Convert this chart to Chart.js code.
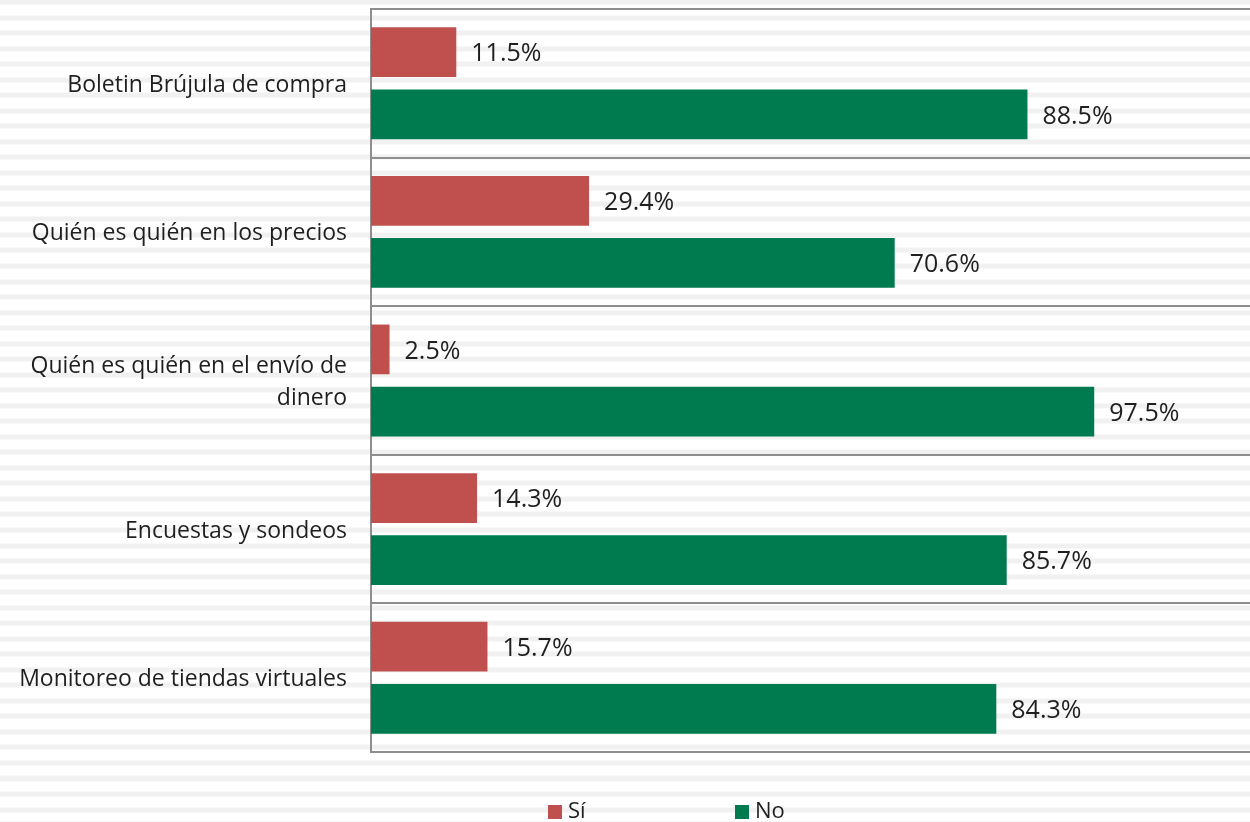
<!DOCTYPE html>
<html>
<head>
<meta charset="utf-8">
<script src="https://cdn.jsdelivr.net/npm/chart.js@4"></script>
<style>
  html, body { margin: 0; padding: 0; }
  body {
    width: 1250px; height: 822px; overflow: hidden;
    background: repeating-linear-gradient(to bottom, #f1f1f1 0px, #f1f1f1 5px, #ffffff 5px, #ffffff 15.53px);
    background-position: 0 -0.5px;
  }
  #wrap { position: relative; width: 1250px; height: 822px; }
</style>
</head>
<body>
<div id="wrap"><canvas id="c" width="1250" height="822"></canvas></div>
<script>
const categories = [
  'Boletin Brújula de compra',
  'Quién es quién en los precios',
  ['Quién es quién en el envío de', 'dinero'],
  'Encuestas y sondeos',
  'Monitoreo de tiendas virtuales'
];
const seriesNames = ['Sí', 'No'];
const siValues = [11.5, 29.4, 2.5, 14.3, 15.7];
const noValues = [88.5, 70.6, 97.5, 85.7, 84.3];
const seriesColors = ['#C0504D', '#007A4F'];

const FONT = '"Open Sans", "Noto Sans", sans-serif';
const TEXT = '#1f1f1f';

const valueLabels = {
  id: 'valueLabels',
  afterDatasetsDraw(chart) {
    const ctx = chart.ctx;
    ctx.save();
    ctx.font = '25px ' + FONT;
    ctx.fillStyle = TEXT;
    ctx.textAlign = 'left';
    ctx.textBaseline = 'middle';
    chart.data.datasets.forEach((ds, i) => {
      const meta = chart.getDatasetMeta(i);
      meta.data.forEach((bar, j) => {
        ctx.fillText(ds.data[j].toFixed(1) + '%', bar.x + 15, bar.y + 2);
      });
    });
    ctx.restore();
  }
};

const customLegend = {
  id: 'customLegend',
  afterDraw(chart) {
    const ctx = chart.ctx;
    ctx.save();
    ctx.font = '22px ' + FONT;
    ctx.textBaseline = 'middle';
    ctx.textAlign = 'left';
    let x = 548;
    const y = 812;
    chart.data.datasets.forEach((ds) => {
      ctx.fillStyle = ds.backgroundColor;
      ctx.fillRect(x, y - 7, 14, 14);
      ctx.fillStyle = TEXT;
      ctx.fillText(ds.label, x + 20, y);
      x += 187;
    });
    ctx.restore();
  }
};

new Chart(document.getElementById('c'), {
  type: 'bar',
  data: {
    labels: categories,
    datasets: [
      { label: seriesNames[0], data: siValues, backgroundColor: seriesColors[0] },
      { label: seriesNames[1], data: noValues, backgroundColor: seriesColors[1] }
    ]
  },
  options: {
    indexAxis: 'y',
    responsive: false,
    animation: false,
    devicePixelRatio: 1,
    layout: { padding: { top: 9, bottom: 70, left: 0, right: 0 } },
    datasets: { bar: { categoryPercentage: 0.837, barPercentage: 0.8 } },
    plugins: {
      legend: { display: false },
      tooltip: { enabled: false }
    },
    scales: {
      x: {
        display: false,
        min: 0,
        max: 118.5
      },
      y: {
        afterFit(scale) {
          scale.width = 371;
          scale.paddingTop = 0;
          scale.paddingBottom = 0;
        },
        grid: {
          offset: true,
          drawTicks: false,
          color: '#8e8e8e',
          lineWidth: 2
        },
        border: { display: true, color: '#8e8e8e', width: 2 },
        ticks: {
          padding: 24,
          labelOffset: 2,
          color: TEXT,
          font: { family: FONT, size: 23, lineHeight: '32px' }
        }
      }
    }
  },
  plugins: [valueLabels, customLegend]
});
</script>
</body>
</html>
